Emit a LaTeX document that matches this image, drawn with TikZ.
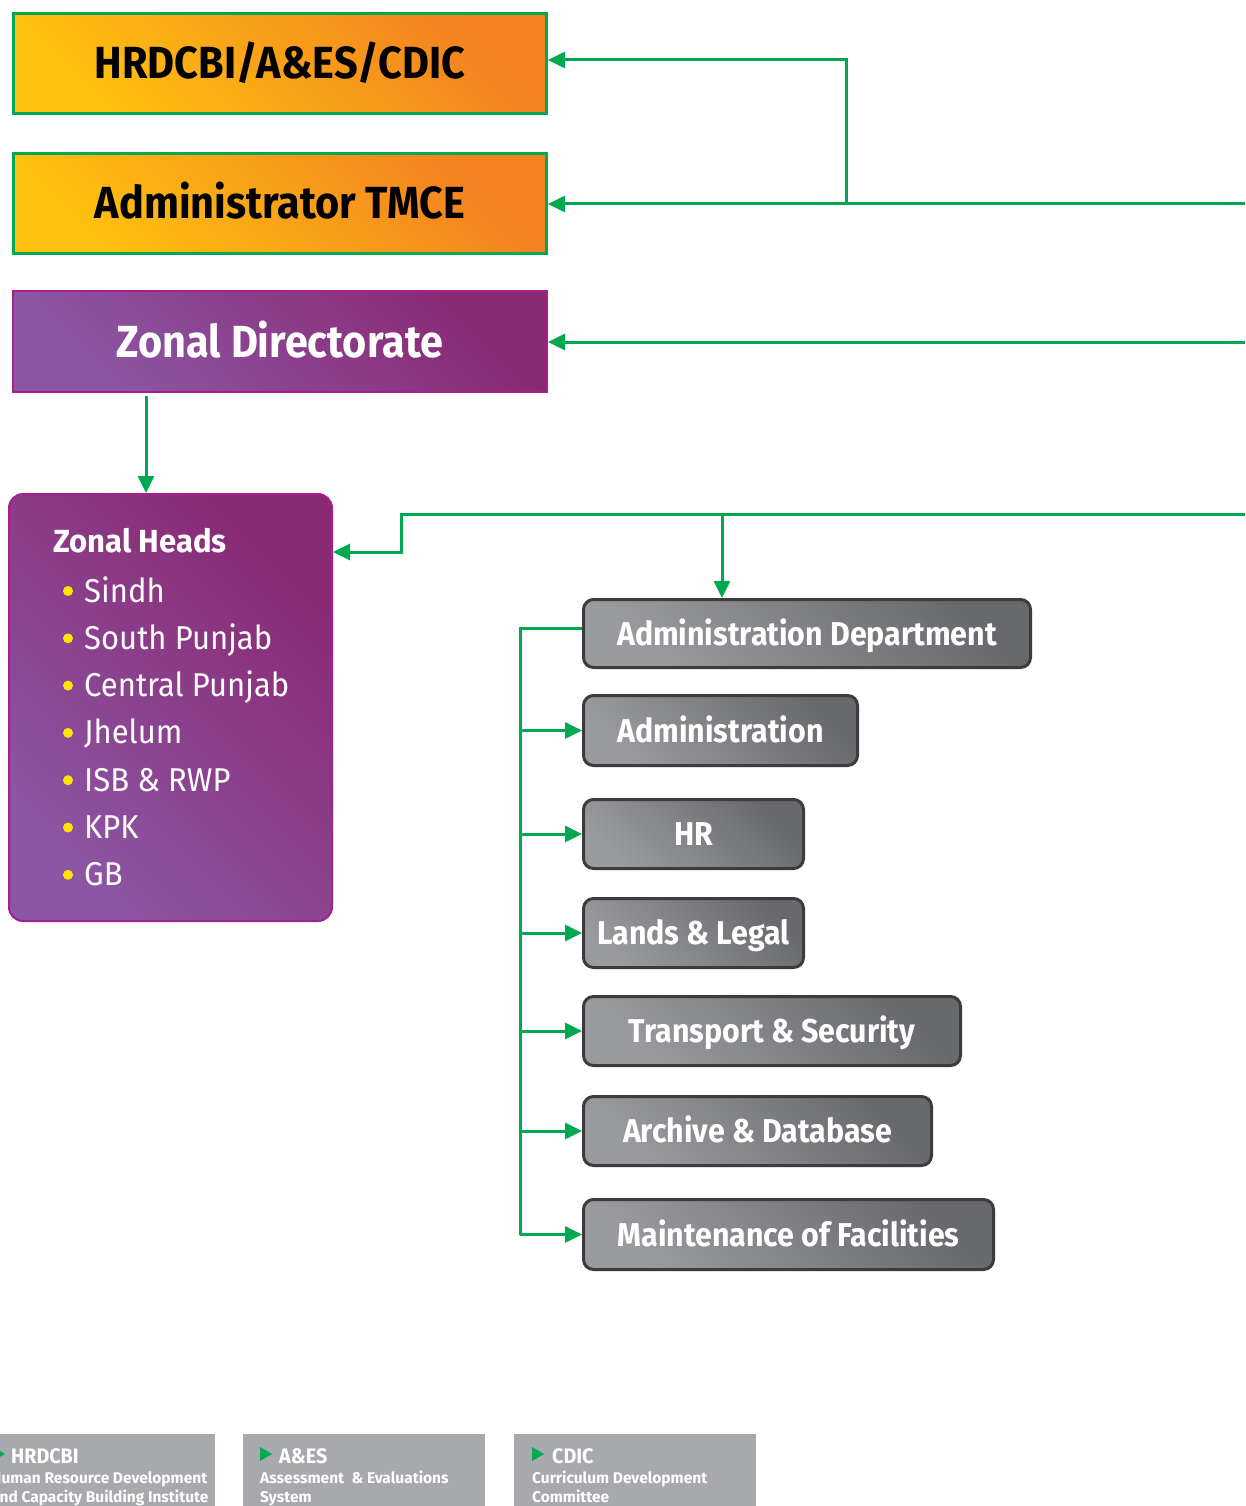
\documentclass[tikz,border=0pt]{standalone}
\usepackage{fontspec}
\setmainfont{Fira Sans}
\newfontfamily\ttlfont[FakeStretch=0.92]{Fira Sans}
\newfontfamily\itmfont[FakeStretch=0.94]{Fira Sans}
\newfontfamily\zfont[FakeStretch=0.97]{Fira Sans}
\newfontfamily\legtfont[FakeStretch=0.94]{Fira Sans}
\newfontfamily\legfont{Fira Sans}
\usetikzlibrary{arrows.meta}
\definecolor{grn}{RGB}{0,169,79}
\definecolor{oyel}{RGB}{254,193,14}
\definecolor{oorg}{RGB}{243,129,33}
\definecolor{plight}{RGB}{140,86,164}
\definecolor{pdark}{RGB}{138,41,116}
\definecolor{pborder}{RGB}{166,32,140}
\definecolor{glight}{RGB}{154,155,159}
\definecolor{gdark}{RGB}{104,105,109}
\definecolor{gborder}{RGB}{60,60,62}
\definecolor{leggray}{RGB}{167,169,172}
\definecolor{bulyel}{RGB}{255,230,0}
\tikzset{
  obox/.style={draw=grn, line width=3pt, left color=oyel, right color=oorg, shading angle=135,
    minimum width=533pt, minimum height=100pt, inner sep=0pt, text=black,
    font=\ttlfont\bfseries\fontsize{45}{50}\selectfont, text height=31pt, text depth=0pt},
  pbox/.style={draw=pborder, line width=2pt, left color=plight, right color=pdark, shading angle=135,
    inner sep=0pt, text=white},
  gbox/.style={draw=gborder, line width=3pt, left color=glight, right color=gdark, shading angle=135,
    rounded corners=10pt, minimum height=69pt, inner sep=0pt, text=white,
    font=\ttlfont\bfseries\fontsize{33}{36}\selectfont, text height=23pt, text depth=0pt},
  conn/.style={draw=grn, line width=3pt},
  arr/.style={conn, -{Triangle[length=17pt,width=16pt]}},
  itm/.style={anchor=base west, inner sep=0pt, text=white, font=\itmfont\fontsize{33}{36}\selectfont},
  legbox/.style={fill=leggray, inner sep=0pt},
  legttl/.style={anchor=base west, inner sep=0pt, text=white, font=\legtfont\bfseries\fontsize{21}{24}\selectfont},
  legtxt/.style={anchor=base west, inner sep=0pt, text=white, font=\legfont\bfseries\fontsize{15.5}{18}\selectfont},
}
\begin{document}
\begin{tikzpicture}[x=1pt,y=-1pt]
\useasboundingbox (0,0) rectangle (1245,1506);
\fill[white] (0,0) rectangle (1245,1506);

% top boxes
\node[obox] (b1) at (280,63.5) {HRDCBI/A\&ES/CDIC};
\node[obox] (b2) at (280,203.5) {Administrator TMCE};
\node[pbox, minimum width=534pt, minimum height=101pt,
      font=\ttlfont\bfseries\fontsize{45}{50}\selectfont, text height=31pt, text depth=0pt] (b3) at (280,341.5) {Zonal Directorate};

% zonal heads
\node[pbox, rounded corners=14pt, minimum width=323pt, minimum height=427pt] (zh) at (170.5,707.5) {};
\node[itm, font=\zfont\bfseries\fontsize{32}{36}\selectfont] (zht) at (53,552) {Zonal Heads};
\foreach \t [count=\i from 0] in {Sindh,South Punjab,Central Punjab,Jhelum,ISB \& RWP,KPK,GB}{
  \fill[bulyel] (68,{591+47.3*\i}) circle (5pt);
  \node[itm] (zi\i) at (84,{602+47.3*\i}) {\t};
}

% department boxes
\node[gbox, minimum width=447pt, minimum height=68pt] (ad) at (807,633.5) {Administration Department};
\node[gbox, minimum width=274pt, minimum height=70pt] (a1) at (720.5,730.5) {Administration};
\node[gbox, minimum width=220pt] (a2) at (693.5,834) {HR};
\node[gbox, minimum width=220pt] (a3) at (693.5,933) {Lands \& Legal};
\node[gbox, minimum width=377pt] (a4) at (772,1031) {Transport \& Security};
\node[gbox, minimum width=348pt] (a5) at (757.5,1131) {Archive \& Database};
\node[gbox, minimum width=410pt, minimum height=70pt] (a6) at (788.5,1234.5) {Maintenance of Facilities};

% connectors
\coordinate (r1) at (1245,204);
\coordinate (j1) at (846,204);
\coordinate (r2) at (1245,342);
\coordinate (r3) at (1245,514);
\coordinate (k1) at (401,552);
\coordinate (k2) at (722,514);
\coordinate (zx) at (146,450);
\coordinate (bx) at (520,628);
\coordinate (bb) at (520,1235);

\draw[arr] (r1) -- (b2.east |- r1);
\draw[arr] (j1) |- ([yshift=3.5pt]b1.east);
\draw[arr] (r2) -- (b3.east |- r2);
\draw[arr] ([yshift=-3pt]b3.south -| zx) -- (zh.north -| zx);
\draw[arr] (r3) -| (k1) -- (zh.east |- k1);
\draw[arr] (k2) -- (ad.north -| k2);
\draw[conn] (ad.west |- bx) -- (bx) -- (bb);
\foreach \n in {a1,a2,a3,a4,a5,a6}{
  \draw[arr] (bx |- \n.west) -- (\n.west);
}

% legend
\node[legbox, minimum width=237pt, minimum height=90pt] (lg1) at (96.5,1479) {};
\node[legbox, minimum width=242pt, minimum height=90pt] (lg2) at (364,1479) {};
\node[legbox, minimum width=242pt, minimum height=90pt] (lg3) at (635,1479) {};
\fill[grn] (-7,1447) -- (5,1454) -- (-7,1461) -- cycle;
\fill[grn] (260,1447) -- (272,1454) -- (260,1461) -- cycle;
\fill[grn] (532,1447) -- (544,1454) -- (532,1461) -- cycle;
\node[legttl] (l1t) at (11,1463) {HRDCBI};
\node[legtxt] (l1a) at (-9,1483.5) {Human Resource Development};
\node[legtxt] (l1b) at (-9,1502) {and Capacity Building Institute};
\node[legttl] (l2t) at (279,1463) {A\&ES};
\node[legtxt] (l2a) at (260,1483.5) {Assessment \ \& Evaluations};
\node[legtxt] (l2b) at (260,1502) {System};
\node[legttl] (l3t) at (552,1463) {CDIC};
\node[legtxt] (l3a) at (532,1483.5) {Curriculum Development};
\node[legtxt] (l3b) at (532,1502) {Committee};
\end{tikzpicture}
\end{document}
